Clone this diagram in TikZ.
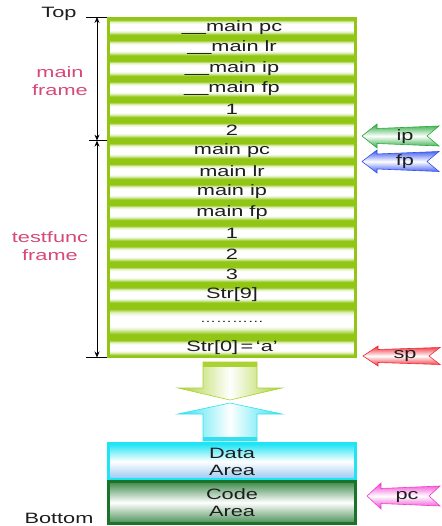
\documentclass[tikz,border=0pt]{standalone}
\usepackage{fontspec}
\setmainfont{Liberation Sans}[FakeStretch=1.45]
\usetikzlibrary{arrows.meta}
\definecolor{stackgreen}{RGB}{145,198,20}
\definecolor{framepink}{RGB}{214,72,120}
\definecolor{datacyan}{RGB}{30,228,245}
\definecolor{datablue}{RGB}{150,200,240}
\definecolor{codegreen}{RGB}{25,115,40}
\definecolor{ipgreen}{RGB}{40,170,60}
\definecolor{fpblue}{RGB}{50,80,240}
\definecolor{spred}{RGB}{240,40,50}
\definecolor{pcpink}{RGB}{240,60,210}
\definecolor{downgreen}{RGB}{170,210,50}
\definecolor{upcyan}{RGB}{50,225,240}
\definecolor{txt}{RGB}{30,30,30}
\pgfdeclareverticalshading{rowshade}{100bp}{color(0bp)=(stackgreen); color(25bp)=(stackgreen);
  color(29bp)=(stackgreen); color(37bp)=(stackgreen!25!white); color(42bp)=(white); color(59bp)=(white);
  color(65bp)=(stackgreen!25!white); color(71bp)=(stackgreen); color(75bp)=(stackgreen); color(100bp)=(stackgreen)}
\begin{document}
\begin{tikzpicture}[x=1pt,y=-1pt,
  font=\fontsize{15}{18}\selectfont, text=txt,
  stackrow/.style={shading=rowshade, minimum width=243pt, minimum height=#1, inner sep=0pt},
  stackrow/.default=18pt,
  framelabel/.style={text=framepink, align=center},
  dimarrow/.style={line width=0.8pt, black, {Stealth[length=6pt,width=5pt]}-{Stealth[length=6pt,width=5pt]}},
  tick/.style={line width=0.6pt, black},
  ptrarrow/.style={draw=#1, line width=0.6pt, top color=#1, bottom color=#1, middle color=white},
  ptrlabel/.style={inner sep=0pt},
  grow/.style={draw=#1, line width=0.6pt, left color=#1, right color=#1, middle color=white}
]
\useasboundingbox (0,0) rectangle (441,526);

% stack background
\fill[stackgreen] (107,17) rectangle (357,358);

% rows
\foreach \i/\lab in {1/{\_\_main pc},2/{\_\_main lr},3/{\_\_main ip},4/{\_\_main fp},5/1,6/2,
  7/{main pc},8/{main lr},9/{main ip},10/{main fp},11/1,12/2,13/3,14/{Str[9]}}{
  \node[stackrow] (row\i) at (232,{17+(\i-0.5)*20.6}) {\lab};
}
\node[stackrow=30pt] (row15) at (232,321.5) {\fontsize{11}{13}\selectfont …………};
\node[stackrow=18pt] (row16) at (232,347.8) {Str[0]\,=\,‘a’};

% dimension arrows
\coordinate (mtop) at (97,17);
\coordinate (mmid) at (97,140.6);
\coordinate (mbot) at (97,357.5);
\coordinate (ttopL) at (86,17);   \coordinate (ttopR) at (107,17);
\coordinate (tmidL) at (89,140.6); \coordinate (tmidR) at (107,140.6);
\coordinate (tbotL) at (86,357.5); \coordinate (tbotR) at (107,357.5);
\draw[tick] (ttopL) -- (ttopR);
\draw[tick] (tmidL) -- (tmidR);
\draw[tick] (tbotL) -- (tbotR);
\draw[dimarrow] (mtop) -- (mmid);
\draw[dimarrow] (mmid) -- (mbot);

\node (toplbl) at (59,14) {Top};
\node[framelabel] (mainlbl) at (60,81) {main\\frame};
\node[framelabel] (testlbl) at (50,246) {testfunc\\frame};
\node (botlbl) at (59,518.5) {Bottom};

% pointer arrows
\draw[ptrarrow=ipgreen, shift={(362,136)}] (0,0) -- (15,-12) -- (15,-7.5) -- (77,-10) -- (65,0) -- (77,10) -- (15,7.5) -- (15,12) -- cycle;
\node[ptrlabel] (iplbl) at (405,137) {ip};
\draw[ptrarrow=fpblue, shift={(362,161.5)}] (0,0) -- (15,-11.5) -- (15,-7.5) -- (77,-10) -- (65,0) -- (77,10) -- (15,7.5) -- (15,11.5) -- cycle;
\node[ptrlabel] (fplbl) at (405,162) {fp};
\draw[ptrarrow=spred, shift={(363,356)}] (0,0) -- (15,-10) -- (15,-6.5) -- (77,-8.5) -- (66,0) -- (77,8.5) -- (15,6.5) -- (15,10) -- cycle;
\node[ptrlabel] (splbl) at (405,356) {sp};
\draw[ptrarrow=pcpink, shift={(367,496)}] (0,0) -- (14,-13) -- (14,-7.5) -- (73,-10) -- (62,0) -- (73,10) -- (14,7.5) -- (14,13) -- cycle;
\node[ptrlabel] (pclbl) at (407,497) {pc};

% growth arrows
\draw[grow=downgreen] (203,362) -- (257,362) -- (257,388) -- (282,388) -- (230,400) -- (178,388) -- (203,388) -- cycle;
\fill[downgreen] (203,362) rectangle (257,366.5);
\draw[grow=upcyan] (203,441) -- (257,441) -- (257,414) -- (282,414) -- (230,403) -- (178,414) -- (203,414) -- cycle;
\fill[upcyan] (203,436.5) rectangle (257,441);

% data and code areas
\node[draw=datacyan, line width=3pt, shade, top color=datacyan, bottom color=datablue, middle color=white,
  minimum width=247pt, minimum height=35.5pt, inner sep=0pt, align=center] (data) at (232,461.5)
  {Data\\[-1pt]Area};
\node[draw=codegreen, line width=3pt, shade, top color=codegreen!85!white, bottom color=codegreen!80!white, middle color=white,
  minimum width=247pt, minimum height=42pt, inner sep=0pt, align=center] (code) at (232,502.5)
  {Code\\[-1pt]Area};
\end{tikzpicture}
\end{document}
